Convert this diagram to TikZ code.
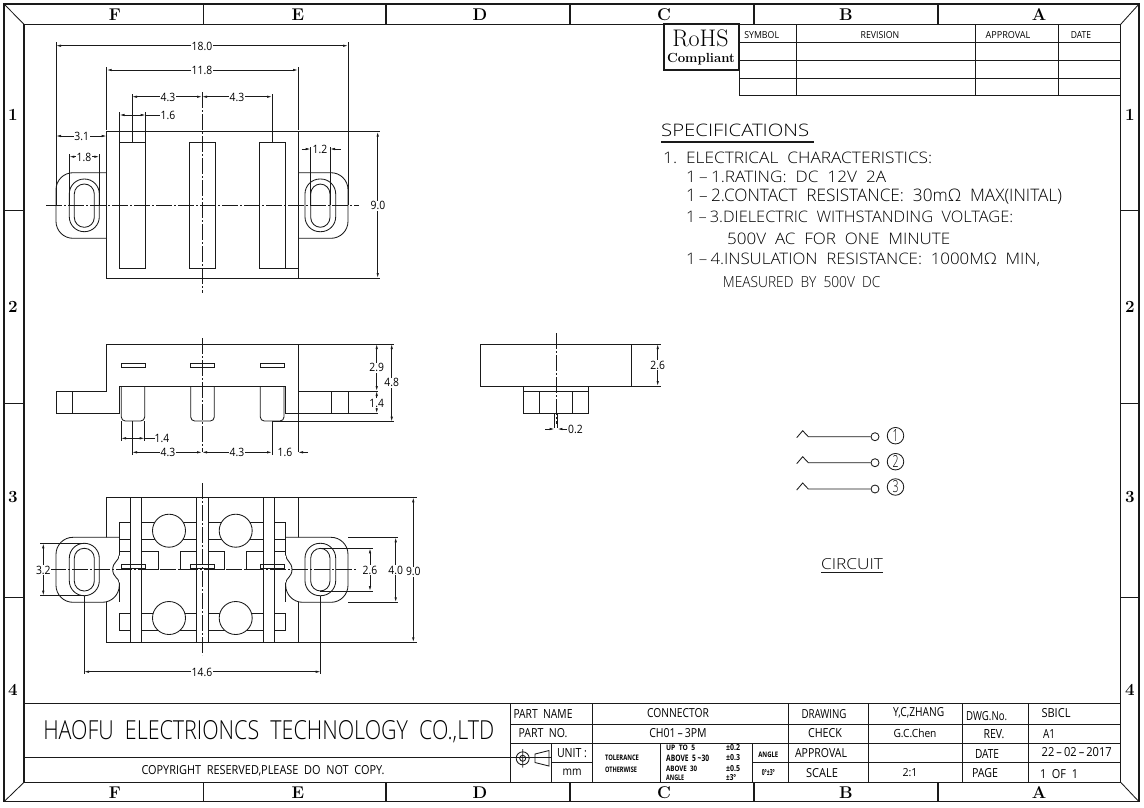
\documentclass[tikz,border=0pt]{standalone}
\usepackage{fontspec}
\usepackage{graphicx}
\usetikzlibrary{arrows.meta}
\newfontfamily\cad[FakeStretch=0.9]{Open Sans Light}
\newfontfamily\cadm[FakeStretch=0.9]{Open Sans}
\newcommand{\TL}[7][center]{\node[anchor=#1,inner sep=0pt,black] (#2) at (#3,#4) {\resizebox{#5pt}{#6pt}{\cad #7}};}
\newcommand{\TT}[7][center]{\node[anchor=#1,inner sep=0pt,black] (#2) at (#3,#4) {\resizebox{#5pt}{#6pt}{\cadm #7}};}
\newcommand{\slotshape}[4]{\draw[part,rounded corners=9.9pt] (#1,#3) rectangle (#2,#4);}
\definecolor{ink}{HTML}{1A1A1A}
\tikzset{
 x=1pt,y=-1pt,
 part/.style={draw=ink,line width=0.85pt},
 heavy/.style={draw=ink,line width=1.5pt},
 ext/.style={draw=ink,line width=0.7pt},
 ctr/.style={draw=ink,line width=0.7pt,dash pattern=on 16pt off 2pt on 2pt off 2pt},
 dimb/.style={draw=ink,line width=0.7pt,{Latex[length=5pt,width=2.4pt]}-{Latex[length=5pt,width=2.4pt]}},
 dime/.style={draw=ink,line width=0.7pt,-{Latex[length=5pt,width=2.4pt]}},
 dimt/.style={fill=white,inner sep=0.6pt,font=\cadm\fontsize{11.5}{11.5}\selectfont,text=black},
 band/.style={font=\bfseries\fontsize{17}{17}\selectfont,inner sep=0pt,text=black},
}
\begin{document}
\begin{tikzpicture}
\useasboundingbox (0,0) rectangle (1144,807);
\fill[white] (0,0) rectangle (1144,807);
% frame
\draw[draw=ink,line width=1.1pt] (4,4) rectangle (1139,801.7);
\draw[heavy] (24,24.3) rectangle (1120.7,782.3);
\draw[part] (4,4)--(24,24.3) (1139,4)--(1120.7,24.3) (4,801.7)--(24,782.3) (1139,801.7)--(1120.7,782.3);
\foreach \x in {203.7,386,570,754,938}{\draw[heavy] (\x,4)--(\x,24.3) (\x,782.3)--(\x,801.7);}
\foreach \y in {210,403,597}{\draw[part] (4,\y)--(24,\y) (1120.7,\y)--(1139,\y);}
\node[band] (ct1) at (115,15) {F}; \node[band] (ct2) at (298,15) {E}; \node[band] (ct3) at (480,15) {D};
\node[band] (ct4) at (664,15) {C}; \node[band] (ct5) at (846,15) {B}; \node[band] (ct6) at (1039,15) {A};
\node[band] (cb1) at (115,793) {F}; \node[band] (cb2) at (298,793) {E}; \node[band] (cb3) at (480,793) {D};
\node[band] (cb4) at (664,793) {C}; \node[band] (cb5) at (846,793) {B}; \node[band] (cb6) at (1039,793) {A};
\node[band] (rl1) at (13,115) {1}; \node[band] (rl2) at (13,307) {2}; \node[band] (rl3) at (13,497) {3}; \node[band] (rl4) at (13,690) {4};
\node[band] (rr1) at (1130,115) {1}; \node[band] (rr2) at (1130,307) {2}; \node[band] (rr3) at (1130,497) {3}; \node[band] (rr4) at (1130,690) {4};

% revision table
\draw[part] (739.3,24.3)--(739.3,95.7) (796.7,24.3)--(796.7,95.7) (975,24.3)--(975,95.7) (1058.3,24.3)--(1058.3,95.7);
\draw[part] (739.3,42.3)--(1120.7,42.3) (739.3,60.7)--(1120.7,60.7) (739.3,78.3)--(1120.7,78.3) (739.3,95.7)--(1120.7,95.7);
\TT{rs}{761.7}{35}{34.7}{7}{SYMBOL}
\TT{rv}{880}{35}{38.7}{7}{REVISION}
\TT{ra}{1008}{35}{44.7}{7}{APPROVAL}
\TT{rd}{1081}{35}{20.3}{7}{DATE}
\draw[heavy,fill=white,line width=1.8pt] (664,24.3) rectangle (739.3,70);
\node[inner sep=0pt,text=black,font=\fontsize{24}{24}\selectfont] (rohs) at (700.5,38.5) {RoHS};
\node[inner sep=0pt,text=black,font=\bfseries\fontsize{13.2}{13.2}\selectfont] (compl) at (701,59) {Compliant};

% specifications
\TL[west]{sp0}{661}{130}{148}{12.5}{SPECIFICATIONS}
\draw[draw=ink,line width=2.4pt] (661,141.7)--(814,141.7);
\TL[west]{sp1}{663}{158}{269}{11.5}{1.\ \ ELECTRICAL\ \ CHARACTERISTICS:}
\TL[west]{sp2}{686}{177}{200}{11.5}{1\,–\,1.RATING:\ \ DC\ \ 12V\ \ 2A}
\TL[west]{sp3}{686}{197}{375.7}{12.5}{1\,–\,2.CONTACT\ \ RESISTANCE:\ \ 30mΩ\ \ MAX(INITAL)}
\TL[west]{sp4}{686}{216.7}{327}{11.5}{1\,–\,3.DIELECTRIC\ \ WITHSTANDING\ \ VOLTAGE:}
\TL[west]{sp5}{727}{239}{223}{11.5}{500V\ \ AC\ \ FOR\ \ ONE\ \ MINUTE}
\TL[west]{sp6}{686}{260}{354}{11.5}{1\,–\,4.INSULATION\ \ RESISTANCE:\ \ 1000MΩ\ \ MIN,}
\TL[west]{sp7}{722.7}{281.7}{157.5}{11}{MEASURED\ \ BY\ \ 500V\ \ DC}

% circuit
\foreach \i/\y/\d/\yy in {1/436.7/1/435.7,2/462.7/2/461.7,3/489/3/487}{
  \node[draw=ink,line width=0.85pt,circle,minimum size=8pt,inner sep=0pt] (oc\i) at (875,\y) {};
  \coordinate (cl\i) at (796.7,\y+1);
  \coordinate (cp\i) at (802.7,\y-6);
  \coordinate (cr\i) at (808.3,\y);
  \draw[part] (cl\i)--(cp\i)--(cr\i)--(oc\i);
  \node[draw=ink,line width=0.85pt,circle,minimum size=16.5pt,inner sep=0pt] (nc\i) at (895.5,\yy) {\resizebox{6pt}{12pt}{\cad\d}};
}
\TL{cirt}{852}{564}{62}{11}{CIRCUIT}
\draw[part] (821,572)--(883,572);

% ---- top view
\draw[part] (106.7,131.7) rectangle (298,278);
\draw[part] (298,131.7)--(380,131.7) (298,278)--(380,278);
\draw[part] (119.5,142.7) rectangle (145.7,268.3);
\draw[part] (189.3,142.7) rectangle (215.7,268.3);
\draw[part] (259,142.7) rectangle (285.7,268.3);
\draw[part] (285.7,268.3)--(298,268.3);
\draw[part,rounded corners=17pt] (106.7,172.7)--(56,172.7)--(56,238.3)--(106.7,238.3);
\draw[part,rounded corners=17pt] (298,172.7)--(348,172.7)--(348,238.3)--(298,238.3);
\draw[part,rounded corners=14.9pt] (69.3,179) rectangle (99.3,231.7);
\slotshape{74.3}{94.3}{184}{227.3}
\draw[part,rounded corners=14.9pt] (305,179) rectangle (335.7,231.7);
\slotshape{310.7}{330}{184}{227.3}
\draw[ctr] (46,205.7)--(359,205.7);
\draw[ctr] (202,92)--(202,293);
% dims top view
\draw[ext] (56,42)--(56,205) (348,42)--(348,205) (106.7,67)--(106.7,130) (298,67)--(298,130);
\draw[ext] (132,94)--(132,142.7) (272,94)--(272,142.7) (119.5,112)--(119.5,142.7) (145.7,112)--(145.7,142.7);
\draw[ext] (69.3,154)--(69.3,205) (99.3,154)--(99.3,205) (310.7,147)--(310.7,205) (330,147)--(330,205);
\draw[dimb] (56,45.7)--(348,45.7);
\node[dimt] (d180) at (202,46) {18.0};
\draw[dimb] (106.7,70)--(298,70);
\node[dimt] (d118) at (202,70) {11.8};
\draw[dimb] (132,96.7)--(202,96.7);
\draw[dimb] (202,96.7)--(272,96.7);
\node[dimt] (d43a) at (168,97) {4.3};
\node[dimt] (d43b) at (237,97) {4.3};
\draw[dimb] (119.5,115)--(145.7,115);
\draw[ext] (145.7,115)--(160,115);
\node[dimt] (d16) at (168,115) {1.6};
\draw[dimb] (56,136)--(106.7,136);
\node[dimt] (d31) at (81.7,136) {3.1};
\draw[dimb] (69.3,156.7)--(99.3,156.7);
\node[dimt] (d18) at (84,157) {1.8};
\draw[dime] (301.7,149)--(310.7,149);
\draw[dime] (340.7,149)--(330,149);
\node[dimt,fill=none] (d12) at (320,149) {1.2};
\draw[dimb] (377.7,131.7)--(377.7,278);
\node[dimt] (d90a) at (378,205.7) {9.0};

% ---- front view
\draw[part] (56,391)--(106.7,391)--(106.7,344)--(298,344)--(298,452);
\draw[part] (298,344)--(394,344);
\draw[part] (56,391)--(56,413.3)--(119.5,413.3)--(119.5,386)--(285.7,386)--(285.7,413.3)--(378,413.3);
\draw[part] (72.7,391)--(72.7,413.3) (298,391)--(378,391) (331.7,391)--(331.7,413.3) (348,391)--(348,413.3);
\foreach \a/\b in {121/145,190.7/214.3,260/284}{\draw[part] (\a,363.3) rectangle (\b,367.3);}
\foreach \a/\b in {121.3/144.7,190.7/214.3,260.3/284}{\draw[part,rounded corners=4pt] (\a,386)--(\a,421)--(\b,421)--(\b,386);}
\draw[ctr] (202,338)--(202,452);
\draw[part] (272,421.7)--(394,421.7);
\draw[ext] (121,421)--(121,441) (144.7,421)--(144.7,441) (132,421)--(132,455) (272,421)--(272,455);
\draw[dimb] (376.7,344)--(376.7,391);
\node[dimt] (d29) at (376.7,367.7) {2.9};
\draw[dimb] (376.7,391)--(376.7,413.3);
\node[dimt] (d14r) at (376.7,403) {1.4};
\draw[dimb] (391.7,344)--(391.7,421.7);
\node[dimt] (d48) at (391.7,382.7) {4.8};
\draw[dimb] (121,438.3)--(144.7,438.3);
\draw[ext] (144.7,438.3)--(155,438.3);
\node[dimt,fill=none] (d14b) at (162,438.3) {1.4};
\draw[dimb] (132,452.3)--(202,452.3);
\draw[dimb] (202,452.3)--(272,452.3);
\node[dimt] (d43c) at (168,452.6) {4.3};
\node[dimt] (d43d) at (237,452.6) {4.3};
\node[dimt,fill=none] (d16b) at (285,452.6) {1.6};
\draw[dime] (308,452.3)--(298,452.3);

% ---- side view
\draw[part] (480.7,344) rectangle (631.7,386);
\draw[part] (523.3,386) rectangle (588.3,413.3);
\draw[part] (523.3,391)--(588.3,391) (539.3,391)--(539.3,413.3) (572.7,391)--(572.7,413.3);
\draw[part] (554.6,413.3)--(554.6,428) (557.4,413.3)--(557.4,428);
\draw[ctr] (556,333)--(556,424);
\draw[part] (631.7,344)--(661,344) (631.7,386)--(661,386);
\draw[dimb] (657.7,344)--(657.7,386);
\node[dimt] (d26s) at (657.7,365) {2.6};
\draw[dime] (545,429)--(554.6,429);
\draw[dime] (567,429)--(557.4,429);
\node[dimt,fill=none] (d02) at (575.5,429) {0.2};

% ---- bottom view
\draw[part] (106.7,497.3) rectangle (298,642.3);
\draw[part] (298,497.3)--(416.7,497.3) (298,642.3)--(416.7,642.3);
\draw[part] (119.3,522.3) rectangle (285.7,539);
\draw[part] (119.3,539)--(119.3,555) (285.7,539)--(285.7,555);
\draw[part] (119.3,551.7)--(130.3,551.7) (274.3,551.7)--(285.7,551.7);
\draw[part] (141.7,551.7) rectangle (158.3,569);
\draw[part] (180.3,551.7) rectangle (224.7,569);
\draw[part] (246.7,551.7) rectangle (274,569);
\draw[part] (119.3,613.3) rectangle (285.7,630);
\foreach \x/\y in {169/530.7,235.7/530.7,169/618,235.7/618}{\draw[part,fill=white] (\x,\y) circle[radius=16.5];}
\foreach \a/\b in {130.3/141.7,196.3/208.3,263/274.3}{\draw[part,fill=white] (\a,497.3) rectangle (\b,642.3);}
\draw[part,fill=white,rounded corners=17pt] (119.3,537.3)--(56,537.3)--(56,602.3)--(119.3,602.3)[sharp corners]--(119.3,583) .. controls (119,578) and (112.7,577) .. (112.7,569.5) .. controls (112.7,562) and (119,561) .. (119.3,555);
\draw[draw=white,line width=1.2pt] (119.3,556)--(119.3,582);
\draw[part,fill=white,rounded corners=17pt] (285.7,537.3)--(348,537.3)--(348,602.3)--(285.7,602.3)[sharp corners]--(285.7,583) .. controls (286,578) and (292,577) .. (292,569.5) .. controls (292,562) and (286,561) .. (285.7,555);
\draw[draw=white,line width=1.2pt] (285.7,556)--(285.7,582);
\draw[part] (119.3,537.3)--(119.3,555) (285.7,537.3)--(285.7,555) (119.3,583)--(119.3,602.3) (285.7,583)--(285.7,602.3);
\foreach \a/\b in {121/145,190.7/214.3,260/284}{\draw[part] (\a,564.3) rectangle (\b,568.3);}
\draw[part,rounded corners=14.9pt] (69.3,543.3) rectangle (99.3,595.7);
\slotshape{74.3}{94.3}{548.3}{591}
\draw[part,rounded corners=14.9pt] (305,543.3) rectangle (335.7,595.7);
\slotshape{310.7}{330}{548.3}{591}
\draw[ctr] (50,569.7)--(357,569.7);
\draw[ctr] (202,483)--(202,655);
\draw[ext] (40,543.3)--(84,543.3) (40,595.7)--(84,595.7) (320,548.3)--(373,548.3) (320,591)--(373,591);
\draw[ext] (348,537.3)--(398,537.3) (348,602.3)--(398,602.3);
\draw[ext] (84,595.7)--(84,674) (320.7,595.7)--(320.7,674);
\draw[dimb] (43.3,543.3)--(43.3,595.7);
\node[dimt] (d32) at (43.3,570) {3.2};
\draw[dimb] (370,548.3)--(370,591);
\node[dimt] (d26b) at (370,570) {2.6};
\draw[dimb] (395.7,537.3)--(395.7,602.3);
\node[dimt] (d40) at (395.7,570) {4.0};
\draw[dimb] (413.3,497.3)--(413.3,642.3);
\node[dimt] (d90b) at (413.3,571.7) {9.0};
\draw[dimb] (84,671.7)--(320.7,671.7);
\node[dimt] (d146) at (202,672) {14.6};

% ---- title block
\draw[part] (24,703.3)--(1120.7,703.3);
\draw[part] (24,757.7)--(552,757.7);
\draw[part] (510.7,703.3)--(510.7,782.3) (592,703.3)--(592,782.3) (551.7,743.3)--(551.7,782.3);
\draw[part] (660,743.3)--(660,782.3) (752.7,743.3)--(752.7,782.3) (788.3,703.3)--(788.3,782.3);
\draw[part] (868.3,703.3)--(868.3,782.3) (962.7,703.3)--(962.7,782.3) (1028.3,703.3)--(1028.3,782.3);
\draw[part] (510.7,724)--(1120.7,724) (510.7,743.3)--(1120.7,743.3);
\draw[part] (551.7,762.7)--(592,762.7) (752.7,762.7)--(1120.7,762.7);
\TL{ttl}{268.8}{731.7}{451}{19}{HAOFU\ \ ELECTRIONCS\ \ TECHNOLOGY\ \ CO.,LTD}
\TT{cpy}{263}{770.7}{243}{9}{COPYRIGHT\ \ RESERVED,PLEASE\ \ DO\ \ NOT\ \ COPY.}
\TT{t1}{543}{714}{59}{9}{PART\ \ NAME}
\TT{t2}{543}{733.5}{49}{9}{PART\ \ NO.}
\TT{t3}{572}{753}{30}{9}{UNIT\ :}
\TT{t4}{572}{772.5}{19}{6.5}{mm}
\TT{t5}{678}{713}{62}{9}{CONNECTOR}
\TT{t6}{678}{733}{57.3}{9}{CH01\,–\,3PM}
\TT{t7}{622}{757.7}{34}{5.5}{\bfseries TOLERANCE}
\TT{t8}{621}{770}{32}{5.5}{\bfseries OTHERWISE}
\TT[west]{t9}{666}{748}{29}{5.5}{\bfseries UP\ \ TO\ \ 5}
\TT[west]{t10}{666}{758}{43}{6.5}{\bfseries ABOVE\ \ 5\ \textasciitilde 30}
\TT[west]{t11}{666}{769}{31}{5.5}{\bfseries ABOVE\ \ 30}
\TT[west]{t12}{666}{778}{18}{5.5}{\bfseries ANGLE}
\TT[west]{t13}{726}{748}{14}{6}{\bfseries ±0.2}
\TT[west]{t14}{726}{758}{14}{6}{\bfseries ±0.3}
\TT[west]{t15}{726}{769}{14}{6}{\bfseries ±0.5}
\TT[west]{t16}{726}{778}{10}{6}{\bfseries ±3°}
\TT{t17}{768.3}{755}{20}{5.5}{\bfseries ANGLE}
\TT{t18}{768.3}{772.3}{13}{6}{\bfseries 0°±3°}
\TT{t19}{824}{714}{45}{9}{DRAWING}
\TT{t20}{825}{733.5}{34}{9}{CHECK}
\TT{t21}{821}{753}{52}{9}{APPROVAL}
\TT{t22}{822}{773}{32}{9}{SCALE}
\TT{t23}{918.7}{713}{51}{9}{Y,C,ZHANG}
\TT{t24}{915}{733}{43}{8.5}{G.C.Chen}
\TT{t25}{910}{773}{15}{8}{2:1}
\TT{t26}{986.7}{715.7}{41}{9}{DWG.No.}
\TT{t27}{994}{734}{21}{9}{REV.}
\TT{t28}{987}{754}{24}{9}{DATE}
\TT{t29}{985}{773}{26}{9}{PAGE}
\TT{t30}{1056}{713}{29}{9}{SBICL}
\TT{t31}{1049}{734}{12}{9}{A1}
\TT{t32}{1076.7}{752.3}{70}{9}{22\,–\,02\,–\,2017}
\TT{t33}{1059}{774}{38}{9}{1\ \ OF\ \ 1}
% tolerance symbol
\draw[part] (522.7,758.3) circle[radius=6.5] (522.7,758.3) circle[radius=3];
\draw[part] (522.7,749)--(522.7,767.5) (535,754)--(549,750.5)--(549,766)--(535,762.5)--cycle;
\end{tikzpicture}
\end{document}
